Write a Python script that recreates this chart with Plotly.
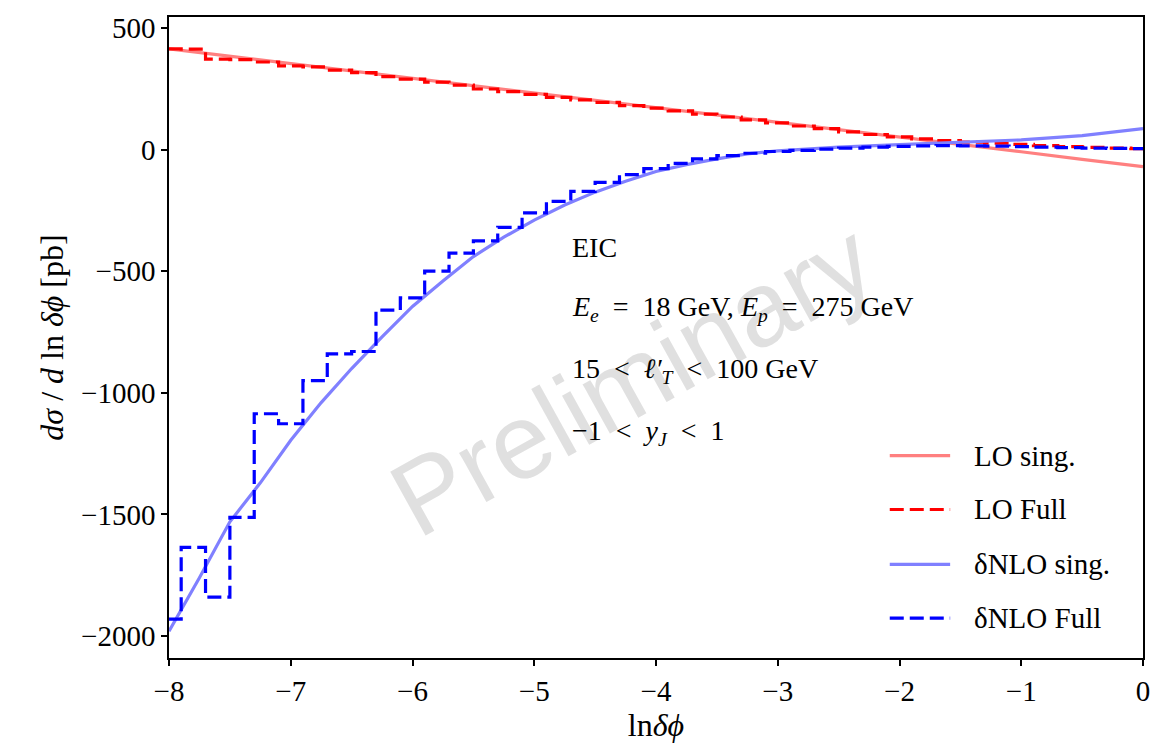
import plotly.graph_objects as go

# bin centres in ln(delta phi), width 0.2
ln_dphi = [round(-8.0 + 0.2 * i, 1) for i in range(41)]

lo_full = [414, 413, 372, 370, 360, 344, 340, 327, 316, 300,
           290, 277, 265, 249, 238, 227, 215, 204, 194, 181,
           170, 159, 146, 134, 122, 110, 97, 86, 73, 62,
           52, 44, 37, 31, 26, 21, 16, 12, 9, 6, 4]

nlo_full = [-1930, -1635, -1840, -1512, -1086, -1127, -950, -840, -830, -660,
            -610, -500, -426, -375, -320, -260, -213, -172, -135, -103,
            -78, -57, -38, -25, -15, -8, -3, 2, 6, 10,
            13, 15, 16, 15, 14, 12, 10, 8, 6, 5, 4]

# smooth singular (resummed) curves
sing_x = [-8.0, -7.75, -7.5, -7.25, -7.0, -6.75, -6.5, -6.25, -6.0, -5.75,
          -5.5, -5.25, -5.0, -4.75, -4.5, -4.25, -4.0, -3.75, -3.5, -3.25,
          -3.0, -2.5, -2.0, -1.5, -1.0, -0.5, 0.0]
lo_sing = [414, 399, 384, 369, 354, 338, 323, 308, 293, 278,
           263, 248, 233, 218, 202, 187, 172, 157, 142, 127,
           112, 81, 51, 21, -9, -40, -70]
nlo_sing = [-1980, -1760, -1530, -1370, -1195, -1040, -900, -770, -645, -540,
            -440, -360, -290, -228, -175, -130, -90, -62, -38, -18,
            -5, 10, 20, 30, 40, 57, 86]

x_ticks = [-8, -7, -6, -5, -4, -3, -2, -1, 0]
y_ticks = [500, 0, -500, -1000, -1500, -2000]

RED_LIGHT = "#ff8080"
RED = "#ff0000"
BLUE_LIGHT = "#8080ff"
BLUE = "#0000ff"
DASH = "14px,6px"
SERIF = "Liberation Serif"

fig = go.Figure()
fig.add_trace(go.Scatter(x=sing_x, y=lo_sing, mode="lines",
                         line=dict(color=RED_LIGHT, width=3.2), name="LO sing."))
fig.add_trace(go.Scatter(x=ln_dphi, y=lo_full, mode="lines", line_shape="hvh",
                         line=dict(color=RED, width=3.2, dash=DASH), name="LO Full"))
fig.add_trace(go.Scatter(x=sing_x, y=nlo_sing, mode="lines",
                         line=dict(color=BLUE_LIGHT, width=3.2), name="δNLO sing."))
fig.add_trace(go.Scatter(x=ln_dphi, y=nlo_full, mode="lines", line_shape="hvh",
                         line=dict(color=BLUE, width=3.2, dash=DASH), name="δNLO Full"))

axis_common = dict(showline=True, linecolor="black", linewidth=1.5, mirror=True,
                   ticks="outside", ticklen=6, tickwidth=1.5, tickcolor="black",
                   showgrid=False, zeroline=False,
                   tickfont=dict(family=SERIF, size=29, color="black"))

fig.update_xaxes(range=[-8, 0], tickvals=x_ticks,
                 title=dict(text="ln<i>δϕ</i>", font=dict(family=SERIF, size=32, color="black"),
                            standoff=4),
                 **axis_common)
fig.update_yaxes(range=[-2090, 545], tickvals=y_ticks,
                 title=dict(text="<i>dσ</i> / <i>d</i> ln <i>δϕ</i> [pb]",
                            font=dict(family=SERIF, size=32, color="black"), standoff=8),
                 **axis_common)

# watermark
fig.add_annotation(text="Preliminary", xref="paper", yref="paper", x=0.475, y=0.435,
                   showarrow=False, textangle=-29,
                   font=dict(family="Liberation Sans", size=106, color="#e0e0e0"))

# process / cut labels
info = ["EIC",
        "<i>E<sub>e</sub></i>  =  18 GeV, <i>E<sub>p</sub></i>  =  275 GeV",
        "15  &lt;  <i>ℓ′<sub>T</sub></i>  &lt;  100 GeV",
        "−1  &lt;  <i>y<sub>J</sub></i>  &lt;  1"]
info_y = [0.640, 0.545, 0.449, 0.352]
for txt, yy in zip(info, info_y):
    fig.add_annotation(text=txt, xref="paper", yref="paper", x=0.412, y=yy,
                       xanchor="left", yanchor="middle", showarrow=False,
                       font=dict(family=SERIF, size=28, color="black"))

# legend drawn in the lower right corner
legend_items = [("LO sing.", RED_LIGHT, "solid"),
                ("LO Full", RED, DASH),
                ("δNLO sing.", BLUE_LIGHT, "solid"),
                ("δNLO Full", BLUE, DASH)]
legend_y = [0.3157, 0.2317, 0.1462, 0.0622]
for (label, col, dash), yy in zip(legend_items, legend_y):
    fig.add_shape(type="line", xref="paper", yref="paper", x0=0.740, x1=0.802,
                  y0=yy, y1=yy, line=dict(color=col, width=3.2, dash=dash))
    fig.add_annotation(text=label, xref="paper", yref="paper", x=0.8245, y=yy,
                       xanchor="left", yanchor="middle", showarrow=False,
                       font=dict(family=SERIF, size=29, color="black"))

fig.update_layout(width=1166, height=746, showlegend=False,
                  plot_bgcolor="white", paper_bgcolor="white",
                  margin=dict(l=169, r=23, t=15, b=88))

fig.write_html("out.html")
